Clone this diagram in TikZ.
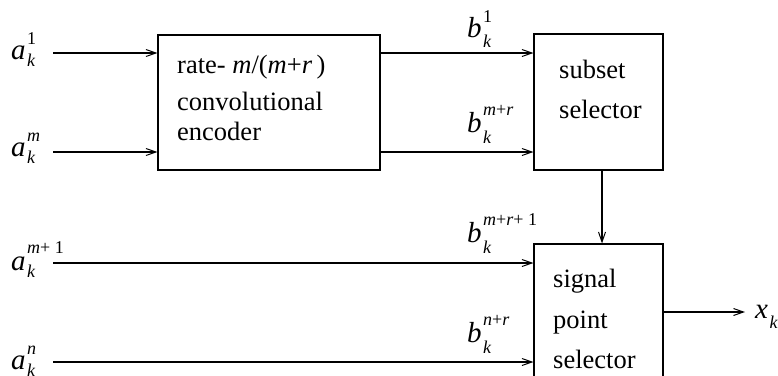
\documentclass[tikz,border=0pt]{standalone}
\usepackage{fontspec}
\setmainfont{Liberation Serif}
\usetikzlibrary{arrows.meta}
\newcommand\symb[5]{{\fontsize{29}{29}\selectfont\textit{#1}}\kern1.5pt\rlap{\raisebox{#4}{\fontsize{18}{18}\selectfont #2}}\raisebox{-#5}{\fontsize{18}{18}\selectfont\textit{#3}}}
\begin{document}
\begin{tikzpicture}[x=1pt,y=-1pt,
  blk/.style={draw,line width=1.1pt,inner sep=0,minimum width=#1},
  txt/.style={inner sep=0,anchor=base west,font=\fontsize{26.5}{26.5}\selectfont},
  lbl/.style={inner sep=0,anchor=base west},
  conn/.style={line width=1.1pt,-{Straight Barb[length=10pt,width=7pt,line width=1pt]}},
  plain/.style={line width=1.1pt}]
\useasboundingbox (0,0) rectangle (778,375);
\clip (0,0) rectangle (778,375);
% blocks
\node[blk=222pt,minimum height=135pt] (enc) at (269,102.5) {};
\node[blk=129pt,minimum height=136pt] (sub) at (598.5,102) {};
\node[blk=129pt,minimum height=160pt] (sig) at (598.5,324) {};
% block texts
\node[txt] (t1) at (177,73) {rate- \textit{m}/(\textit{m}+\textit{r}\,)};
\node[txt] (t2) at (177,110) {convolutional};
\node[txt] (t3) at (177,140) {encoder};
\node[txt] (t4) at (559,78) {subset};
\node[txt] (t5) at (559,118) {selector};
\node[txt] (t6) at (553,287) {signal};
\node[txt] (t7) at (553,328) {point};
\node[txt] (t8) at (553,368) {selector};
% labels
\node[lbl] (la1) at (11,59) {\symb{a}{1}{k}{15pt}{7pt}};
\node[lbl] (lam) at (11,156) {\symb{a}{\textit{m}}{k}{15pt}{7pt}};
\node[lbl] (lam1) at (11,270) {\symb{a}{\textit{m}+ 1}{k}{17pt}{7pt}};
\node[lbl] (lan) at (11,369) {\symb{a}{\textit{n}}{k}{15pt}{7pt}};
\node[lbl] (lb1) at (467,37) {\symb{b}{1}{k}{15pt}{10pt}};
\node[lbl] (lbmr) at (467,132) {\symb{b}{\textit{m}+\textit{r}}{k}{17pt}{11pt}};
\node[lbl] (lbmr1) at (467,242) {\symb{b}{\textit{m}+\textit{r}+ 1}{k}{17pt}{11pt}};
\node[lbl] (lbnr) at (467,342) {\symb{b}{\textit{n}+\textit{r}}{k}{17pt}{11pt}};
\node[lbl] (lx) at (755,318) {\symb{x}{}{k}{0pt}{10pt}};
% free ends
\coordinate (s1) at (53,53);
\coordinate (s2) at (53,152);
\coordinate (s3) at (53,263);
\coordinate (s4) at (53,362);
\coordinate (xo) at (745,312);
% connectors
\draw[conn] (s1) -- (enc.west |- s1);
\draw[conn] (s2) -- (enc.west |- s2);
\draw[conn] (enc.east |- s1) -- (sub.west |- s1);
\draw[conn] (enc.east |- s2) -- (sub.west |- s2);
\draw[conn] ([xshift=3.5pt]sub.south) -- ([xshift=3.5pt]sig.north);
\draw[conn] (s3) -- (sig.west |- s3);
\draw[conn] (s4) -- (sig.west |- s4);
\draw[conn] (sig.east |- xo) -- (xo);
\end{tikzpicture}
\end{document}
